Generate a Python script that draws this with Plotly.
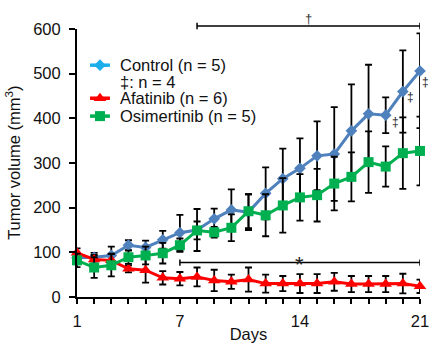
import plotly.graph_objects as go

days = list(range(1, 22))
control = [88, 89, 93, 116, 111, 128, 144, 150, 175, 195, 190, 232, 265, 288, 316, 320, 372, 410, 407, 460, 506]
control_sd_up = [10, 10, 20, 11, 15, 20, 40, 47, 23, 46, 40, 58, 67, 67, 77, 105, 104, 110, 40, 92, 84]
control_sd_down = [10, 10, 20, 11, 15, 20, 40, 47, 23, 46, 40, 58, 67, 67, 77, 105, 104, 110, 40, 92, 128]
afatinib = [99, 84, 82, 63, 60, 43, 41, 45, 37, 34, 39, 30, 30, 30, 30, 34, 29, 29, 29, 30, 24]
afatinib_sd = [10, 10, 15, 8, 28, 15, 15, 21, 24, 16, 27, 20, 17, 21, 21, 20, 18, 18, 18, 22, 15]
osimertinib = [82, 66, 71, 89, 93, 98, 116, 149, 145, 155, 192, 183, 205, 223, 228, 254, 269, 302, 292, 322, 327]
osimertinib_sd = [15, 23, 25, 15, 20, 23, 15, 20, 12, 30, 38, 47, 61, 52, 59, 60, 55, 69, 45, 80, 77]

xtick_vals = [1, 7, 14, 21]
xtick_text = ["1", "7", "14", "21"]
ytick_vals = [0, 100, 200, 300, 400, 500, 600]

legend_labels = ["Control (n = 5)", "\u2021: n = 4", "Afatinib (n = 6)", "Osimertinib (n = 5)"]
y_title = "Tumor volume (mm<sup>3</sup>)"
x_title = "Days"

# significance marks (day positions)
dagger_days = [19, 20, 21]
dagger_offsets = [(10, -7), (8, -5), (5, -11)]  # pixel offsets of the mark from the point
star_bracket = [7, 21]
dagger_bracket = [8, 21]

BLUE = "#4F81BD"
CYAN = "#1AAEEB"
RED = "#FF0000"
GREEN = "#00B050"
FONT = "Arial, Liberation Sans, sans-serif"
FS = 16.5

fig = go.Figure()

def err(up, down=None):
    d = dict(type="data", array=up, color="black", thickness=1.8, width=3.5, visible=True)
    if down is not None:
        d["symmetric"] = False
        d["arrayminus"] = down
    return d

fig.add_trace(go.Scatter(x=days, y=control, mode="lines+markers", cliponaxis=False,
                         line=dict(color=BLUE, width=3),
                         marker=dict(symbol="diamond", size=9, color=BLUE),
                         error_y=err(control_sd_up, control_sd_down), showlegend=False))
fig.add_trace(go.Scatter(x=days, y=afatinib, mode="lines+markers", cliponaxis=False,
                         line=dict(color=RED, width=3),
                         marker=dict(symbol="triangle-up", size=11, color=RED),
                         error_y=err(afatinib_sd), showlegend=False))
fig.add_trace(go.Scatter(x=days, y=osimertinib, mode="lines+markers", cliponaxis=False,
                         line=dict(color=GREEN, width=3),
                         marker=dict(symbol="square", size=10, color=GREEN),
                         error_y=err(osimertinib_sd), showlegend=False))

# manual legend (positions in axis units)
leg_x0, leg_x1, leg_xm, leg_text_x = 1.76, 2.92, 2.34, 3.4
leg_rows = [519, 481, 445, 405]
leg_styles = [(CYAN, "diamond", 9), None, (RED, "triangle-up", 11), (GREEN, "square", 10)]
for lab, yy, st in zip(legend_labels, leg_rows, leg_styles):
    if st is not None:
        c, sym, sz = st
        fig.add_trace(go.Scatter(x=[leg_x0, leg_x1], y=[yy, yy], mode="lines",
                                 line=dict(color=c, width=3.5), showlegend=False, hoverinfo="skip"))
        fig.add_trace(go.Scatter(x=[leg_xm], y=[yy], mode="markers",
                                 marker=dict(symbol=sym, size=sz, color=c), showlegend=False, hoverinfo="skip"))
    fig.add_annotation(x=leg_text_x, y=yy, xref="x", yref="y", text=lab, showarrow=False,
                       xanchor="left", yanchor="middle", font=dict(family=FONT, size=FS, color="#111"))

# star bracket
star_y = 77
fig.add_shape(type="line", xref="x", yref="y", x0=star_bracket[0], x1=star_bracket[1], y0=star_y, y1=star_y,
              line=dict(color="black", width=1.5))
for xb in star_bracket:
    fig.add_shape(type="line", xref="x", yref="y", x0=xb, x1=xb, y0=star_y - 7, y1=star_y + 7,
                  line=dict(color="black", width=1.5))
fig.add_annotation(x=(star_bracket[0] + star_bracket[1]) / 2, y=star_y, xref="x", yref="y", text="*",
                   showarrow=False, yanchor="middle", yshift=-2, font=dict(family=FONT, size=22, color="#222"))

# dagger bracket (above plot area)
dag_y = 1.011
fig.add_shape(type="line", xref="x", yref="paper", x0=dagger_bracket[0], x1=dagger_bracket[1], y0=dag_y, y1=dag_y,
              line=dict(color="black", width=1.5))
for xb in dagger_bracket:
    fig.add_shape(type="line", xref="x", yref="paper", x0=xb, x1=xb, y0=dag_y - 0.012, y1=dag_y + 0.012,
                  line=dict(color="black", width=1.5))
fig.add_annotation(x=(dagger_bracket[0] + dagger_bracket[1]) / 2, y=1.041, xref="x", yref="paper", text="\u2020",
                   showarrow=False, yanchor="middle", font=dict(family=FONT, size=13, color="#333"))

# double-dagger marks beside control points
for d, (dx, dy) in zip(dagger_days, dagger_offsets):
    i = days.index(d)
    fig.add_annotation(x=d, y=control[i], xref="x", yref="y", text="\u2021", showarrow=False,
                       xanchor="center", yanchor="middle", xshift=dx, yshift=dy,
                       font=dict(family=FONT, size=12, color="#222"))

# y-axis title as an annotation for exact placement
fig.add_annotation(x=-0.187, y=0.5, xref="paper", yref="paper", text=y_title, textangle=-90,
                   showarrow=False, xanchor="center", yanchor="middle", font=dict(family=FONT, size=FS, color="#111"))

fig.update_layout(
    width=429, height=345,
    margin=dict(l=77, r=9, t=29, b=48, autoexpand=False),
    plot_bgcolor="white", paper_bgcolor="white",
    font=dict(family=FONT, size=FS, color="black"),
    showlegend=False,
)
fig.update_xaxes(range=[1, 21], tickmode="array", tickvals=xtick_vals, ticktext=xtick_text,
                 ticks="outside", ticklen=5, tickwidth=1.5, tickcolor="black",
                 minor=dict(tickmode="array", tickvals=days, ticks="outside", ticklen=5, tickwidth=1.5,
                            tickcolor="black", showgrid=False),
                 showline=True, linecolor="black", linewidth=2, showgrid=False, zeroline=False,
                 ticklabelstandoff=3, ticklabeloverflow="allow", automargin=False,
                 title=dict(text=x_title, standoff=0, font=dict(size=FS, color="#111")),
                 tickfont=dict(size=FS, color="#111"))
fig.update_yaxes(range=[0, 600], tickmode="array", tickvals=ytick_vals,
                 ticks="outside", ticklen=6, tickwidth=1.5, tickcolor="black",
                 showline=True, linecolor="black", linewidth=2, showgrid=False, zeroline=False,
                 ticklabelstandoff=5, ticklabeloverflow="allow", automargin=False,
                 tickfont=dict(size=FS, color="#111"))

fig.write_html("out.html", config={"displayModeBar": False},
               post_script="document.body.style.margin='0';document.body.style.overflow='hidden';")
